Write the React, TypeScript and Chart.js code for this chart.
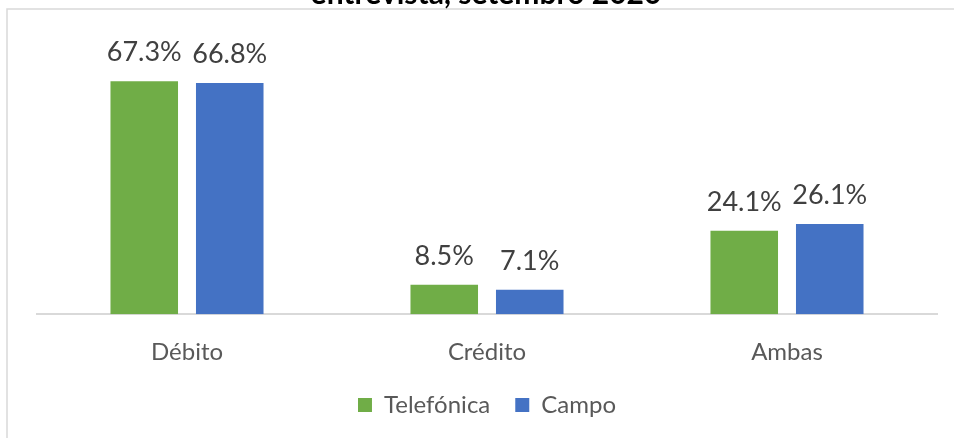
import React, { useEffect, useRef } from "react";
import { Chart, registerables } from "chart.js";

Chart.register(...registerables);

const categories = ["Débito", "Crédito", "Ambas"];
const telefonica = [67.3, 8.5, 24.1];
const campo = [66.8, 7.1, 26.1];
const seriesNames = ["Telefónica", "Campo"];
const titleText = "entrevista, setembro 2020";

const FONT = "Lato, 'Open Sans', sans-serif";

const framePlugin = {
  id: "frame",
  beforeDraw(chart: any) {
    const ctx = chart.ctx;
    ctx.save();
    ctx.strokeStyle = "#d9d9d9";
    ctx.lineWidth = 1.5;
    ctx.beginPath();
    ctx.moveTo(7, chart.height + 5);
    ctx.lineTo(7, 9);
    ctx.lineTo(chart.width + 5, 9);
    ctx.stroke();
    ctx.fillStyle = "#000000";
    ctx.font = `bold 30px ${FONT}`;
    ctx.textAlign = "center";
    ctx.textBaseline = "alphabetic";
    ctx.fillText(titleText, 486, 4);
    ctx.restore();
  },
};

const labelPlugin = {
  id: "valueLabels",
  afterDatasetsDraw(chart: any) {
    const ctx = chart.ctx;
    ctx.save();
    ctx.fillStyle = "#404040";
    ctx.font = `27px ${FONT}`;
    ctx.textAlign = "center";
    ctx.textBaseline = "alphabetic";
    chart.data.datasets.forEach((ds: any, i: number) => {
      const meta = chart.getDatasetMeta(i);
      meta.data.forEach((bar: any, j: number) => {
        const v = ds.data[j] as number;
        ctx.fillText(v.toFixed(1) + "%", bar.x, bar.y - 20);
      });
    });
    ctx.restore();
  },
};

export default function App() {
  const ref = useRef<HTMLCanvasElement | null>(null);
  useEffect(() => {
    if (!ref.current) return;
    const chart = new Chart(ref.current, {
      type: "bar",
      data: {
        labels: categories,
        datasets: [
          {
            label: seriesNames[0],
            data: telefonica,
            backgroundColor: "#70AD47",
            barPercentage: 0.79,
            categoryPercentage: 0.57,
          },
          {
            label: seriesNames[1],
            data: campo,
            backgroundColor: "#4472C4",
            barPercentage: 0.79,
            categoryPercentage: 0.57,
          },
        ],
      },
      options: {
        responsive: false,
        animation: false,
        layout: { padding: { left: 37, right: 17, top: 72, bottom: 11 } },
        scales: {
          x: {
            grid: { display: false, drawTicks: false },
            border: { display: true, color: "#d9d9d9", width: 2 },
            ticks: {
              color: "#595959",
              font: { family: FONT, size: 24 },
              padding: 24,
            },
            afterFit(scale: any) {
              scale.height -= 23;
            },
          },
          y: {
            display: false,
            min: 0,
            max: 70,
          },
        },
        plugins: {
          legend: {
            position: "bottom",
            labels: {
              color: "#595959",
              font: { family: FONT, size: 24 },
              boxWidth: 14,
              boxHeight: 14,
              padding: 25,
            },
          },
          tooltip: { enabled: false },
          title: { display: false },
        },
      },
      plugins: [framePlugin, labelPlugin],
    });
    return () => chart.destroy();
  }, []);
  return (
    <div
      style={{
        position: "fixed",
        left: 0,
        top: 0,
        width: 954,
        height: 438,
        background: "#ffffff",
        overflow: "hidden",
      }}
    >
      <canvas ref={ref} width={954} height={438} style={{ display: "block" }} />
    </div>
  );
}
